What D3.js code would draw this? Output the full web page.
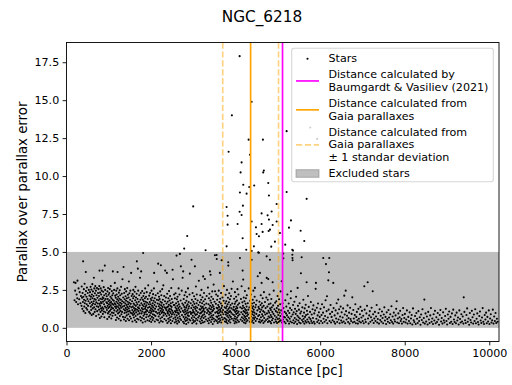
<!DOCTYPE html>
<html><head><meta charset="utf-8">
<script src="https://cdn.jsdelivr.net/npm/d3@7"></script>
<style>
body{margin:0;background:#fff}
svg{display:block}
text{font-family:"DejaVu Sans",sans-serif;fill:#000}
</style>
</head><body>
<svg id="chart" width="512" height="385"></svg>
<script>
const chartTitle = "NGC_6218";
const xLabel = "Star Distance [pc]";
const yLabel = "Parallax over parallax error";
const xTicks = [0, 2000, 4000, 6000, 8000, 10000];
const yTicks = [0, 2.5, 5, 7.5, 10, 12.5, 15, 17.5];
const xDomain = [0, 10230];
const yDomain = [-0.9, 18.8];
const excludedBand = [0, 5];          // parallax/error range of excluded stars
const baumgardtDistance = 5110;       // pc
const gaiaDistance = 4355;            // pc
const gaiaDistanceBounds = [3695, 5015]; // ±1 standard deviation, pc

// [distance pc, parallax / parallax error]
const stars = [
[175,3.0],[190,1.82],[205,2.45],[213,2.96],[228,1.7],[240,2.2],[255,1.95],[260,3.11],[272,1.55],[285,2.6],[300,1.88],[312,2.35],[330,1.62],[342,2.1],
[355,1.45],[360,2.72],[368,1.98],[375,1.25],[380,2.3],[388,1.7],[393,4.38],[398,2.05],[405,1.1],[410,2.55],[415,1.85],[420,1.4],[428,2.9],[433,1.62],[440,2.18],[445,0.98],[452,1.78],[457,3.68],[460,2.42],[466,1.3],[472,2.05],[478,1.55],[483,2.65],[490,1.2],[495,1.9],[502,2.3],[510,1.45],[518,1.75],[527,2.5],[535,1.05],[544,2.12],
[552,1.62],[556,2.35],[560,0.95],[565,1.88],[570,2.7],[574,1.4],[579,2.05],[583,1.18],[588,2.52],[592,1.7],[597,0.85],[601,2.2],[606,1.5],[611,2.88],[615,1.95],[620,1.28],[625,2.4],[630,1.6],[634,0.92],[639,2.1],[644,1.75],[648,3.3],[653,1.35],[658,2.6],[662,1.9],[667,1.05],[672,2.28],[677,1.55],[681,2.75],[686,1.22],[691,1.85],[696,2.45],[700,0.78],[705,1.68],[710,2.15],[715,1.42],[720,2.62],[726,1.1],[733,1.98],[740,1.6],[746,2.3],
[752,1.38],[756,2.55],[760,0.88],[764,1.82],[768,2.1],[772,1.2],[776,2.75],[781,3.77],[785,1.58],[789,0.65],[793,2.32],[797,1.45],[801,1.92],[805,1.05],[809,2.6],[813,1.7],[817,1.28],[821,2.2],[825,0.75],[829,1.62],[833,2.45],[837,1.15],[841,1.88],[845,3.1],[849,1.35],[852,3.77],[856,2.02],[860,0.92],[864,1.72],[868,2.38],[872,1.25],[876,1.95],[880,2.68],[884,1.08],[888,1.55],[892,2.15],[896,0.7],[900,1.8],[906,4.1],[910,1.4],[915,2.5],[920,1.02],[926,1.9],[932,2.25],[938,1.32],[944,1.68],
[952,2.08],[956,1.18],[960,1.62],[964,0.58],[968,2.4],[972,1.45],[976,1.9],[980,0.95],[984,2.62],[988,1.3],[992,1.75],[996,2.18],[1000,1.05],[1004,1.55],[1008,0.72],[1012,2.3],[1016,1.38],[1020,1.82],[1024,2.55],[1028,1.12],[1032,1.65],[1036,0.88],[1040,2.05],[1044,1.48],[1048,2.75],[1052,1.22],[1056,1.7],[1060,0.62],[1064,1.95],[1068,1.35],[1072,2.42],[1076,1.0],[1080,1.58],[1084,2.15],[1088,0.8],[1092,1.85],[1096,3.72],[1100,1.28],[1105,2.28],[1110,1.52],[1115,0.98],[1120,1.78],[1126,2.5],[1132,1.15],[1138,1.62],[1143,2.96],[1148,1.4],
[1152,2.12],[1156,0.85],[1160,1.55],[1164,1.98],[1168,0.52],[1172,1.3],[1176,2.45],[1180,1.72],[1184,1.08],[1188,2.2],[1192,1.42],[1196,0.68],[1200,1.88],[1204,2.6],[1207,3.68],[1211,1.18],[1215,1.62],[1219,0.95],[1223,2.05],[1227,1.35],[1231,1.78],[1235,0.6],[1239,2.32],[1243,1.5],[1247,1.02],[1251,1.92],[1255,1.25],[1259,2.48],[1263,0.78],[1267,1.65],[1271,2.15],[1275,1.12],[1279,1.45],[1283,0.48],[1287,1.85],[1291,2.7],[1295,1.32],[1299,0.9],[1303,1.58],[1308,2.25],[1313,1.05],[1318,1.75],[1324,3.2],[1330,1.4],[1336,0.72],[1342,2.0],[1349,4.01],
[1352,1.22],[1356,1.68],[1360,0.55],[1364,2.3],[1368,1.45],[1372,0.98],[1376,1.88],[1380,2.55],[1384,1.15],[1388,0.7],[1392,1.6],[1396,2.08],[1400,1.3],[1404,0.45],[1408,1.78],[1412,2.4],[1416,1.02],[1420,1.5],[1424,0.82],[1428,1.95],[1432,1.2],[1436,2.62],[1440,1.38],[1444,0.6],[1448,1.72],[1452,2.18],[1456,1.08],[1460,1.55],[1464,0.9],[1468,2.0],[1472,1.28],[1476,3.05],[1480,0.5],[1484,1.65],[1488,2.28],[1492,1.12],[1496,1.42],[1500,0.75],[1505,1.85],[1510,2.45],[1515,1.0],[1520,1.58],[1525,0.62],[1529,3.62],[1535,1.35],[1541,2.1],[1547,0.95],
[1552,1.75],[1556,1.18],[1560,0.42],[1564,2.22],[1568,1.4],[1572,0.85],[1576,1.95],[1580,2.5],[1584,1.05],[1588,1.6],[1592,0.68],[1596,1.3],[1600,2.08],[1604,0.92],[1608,1.52],[1612,2.38],[1616,1.15],[1620,0.5],[1624,1.82],[1628,1.25],[1632,2.7],[1636,0.78],[1640,1.45],[1644,2.0],[1648,1.02],[1652,0.38],[1656,1.68],[1660,2.25],[1664,4.38],[1668,1.2],[1672,0.6],[1676,1.55],[1680,1.9],[1684,0.88],[1688,3.9],[1692,1.35],[1696,2.45],[1700,1.1],[1705,0.55],[1710,1.72],[1715,1.28],[1720,2.15],[1726,0.95],[1732,1.48],[1738,3.3],[1744,0.72],[1748,1.85],
[1752,1.15],[1756,2.3],[1760,0.48],[1766,3.72],[1770,1.62],[1774,0.95],[1778,1.98],[1782,1.3],[1786,0.65],[1790,2.42],[1794,1.08],[1798,1.5],[1802,0.35],[1806,1.85],[1810,1.22],[1813,4.93],[1817,2.1],[1821,0.8],[1825,1.42],[1829,1.75],[1833,0.58],[1837,2.28],[1841,1.0],[1845,1.58],[1849,0.9],[1853,1.95],[1857,1.25],[1861,2.6],[1865,0.42],[1869,1.38],[1873,1.72],[1877,1.05],[1881,2.05],[1885,0.7],[1889,1.48],[1893,1.18],[1897,2.35],[1901,0.88],[1906,1.65],[1911,1.12],[1916,0.5],[1921,1.9],[1927,1.32],[1933,2.8],[1939,0.75],[1945,1.55],
[1952,1.02],[1956,2.12],[1960,0.45],[1964,1.38],[1968,1.7],[1972,0.82],[1976,2.3],[1980,1.15],[1984,0.6],[1988,1.55],[1992,1.92],[1996,0.98],[2000,1.28],[2004,0.38],[2008,1.82],[2012,2.45],[2016,1.08],[2020,0.72],[2024,1.45],[2028,2.0],[2032,1.2],[2036,0.52],[2040,1.62],[2044,0.9],[2048,2.22],[2052,1.35],[2056,0.65],[2060,1.78],[2064,1.1],[2068,2.6],[2073,3.62],[2077,0.85],[2081,1.5],[2085,1.95],[2089,0.42],[2094,1.25],[2099,1.68],[2104,0.78],[2110,2.15],[2116,1.05],[2122,1.4],[2130,0.55],[2138,1.85],[2145,3.05],
[2152,0.95],[2156,1.6],[2160,2.28],[2164,0.5],[2168,4.23],[2172,1.2],[2176,1.82],[2180,0.75],[2184,1.42],[2188,2.05],[2192,1.0],[2196,0.35],[2200,1.55],[2204,1.9],[2208,0.88],[2212,1.3],[2216,2.4],[2220,0.62],[2224,1.72],[2228,1.12],[2232,4.12],[2236,0.45],[2240,1.48],[2244,2.15],[2248,0.98],[2252,1.25],[2256,1.65],[2260,0.7],[2264,2.55],[2268,1.05],[2272,1.38],[2276,0.4],[2280,1.85],[2285,1.18],[2290,2.8],[2295,0.82],[2300,1.52],[2305,1.0],[2311,2.1],[2317,0.58],[2323,1.35],[2329,1.75],[2334,3.77],[2340,0.92],[2346,1.28],
[2352,2.0],[2356,0.48],[2360,1.18],[2364,1.6],[2368,0.78],[2374,3.62],[2378,1.35],[2382,2.25],[2386,0.32],[2390,1.05],[2394,1.72],[2398,0.95],[2402,1.4],[2406,0.6],[2410,1.95],[2414,1.15],[2418,0.42],[2422,1.52],[2426,2.42],[2430,0.85],[2434,1.25],[2438,1.8],[2442,0.68],[2446,1.08],[2450,2.1],[2454,0.52],[2458,1.45],[2462,0.98],[2466,1.62],[2470,0.3],[2474,1.22],[2478,2.62],[2482,0.75],[2486,1.38],[2490,1.9],[2495,0.9],[2500,1.12],[2505,0.45],[2509,3.83],[2511,1.68],[2517,3.2],[2523,1.0],[2530,0.62],[2537,1.5],[2544,2.2],
[2552,0.88],[2556,1.5],[2560,0.35],[2564,1.95],[2568,1.1],[2572,0.7],[2576,1.35],[2580,2.28],[2584,0.55],[2588,1.02],[2592,1.62],[2596,0.42],[2600,1.25],[2603,4.76],[2607,0.82],[2611,1.88],[2615,1.15],[2619,0.28],[2623,1.45],[2627,2.05],[2631,0.65],[2635,1.0],[2639,1.72],[2643,0.48],[2647,1.3],[2651,2.6],[2655,0.92],[2659,1.55],[2663,0.38],[2667,1.18],[2671,2.2],[2675,0.75],[2679,1.4],[2682,4.87],[2688,0.6],[2694,1.05],[2700,1.8],[2705,4.05],[2711,0.52],[2718,1.28],[2725,2.45],[2732,0.85],[2740,1.6],[2746,3.3],
[2752,1.12],[2756,0.4],[2760,3.72],[2764,1.5],[2768,0.72],[2772,1.9],[2776,1.02],[2780,0.3],[2788,1.38],[2792,2.15],[2796,0.58],[2800,1.2],[2804,0.88],[2808,1.65],[2812,0.45],[2816,1.08],[2820,2.35],[2824,0.7],[2828,1.32],[2832,0.25],[2836,1.78],[2840,0.95],[2844,1.45],[2848,0.5],[2852,2.05],[2858,1.15],[2862,0.62],[2866,1.55],[2870,0.82],[2874,2.6],[2878,1.0],[2882,0.35],[2886,1.28],[2890,1.7],[2895,0.78],[2900,1.42],[2905,0.55],[2910,2.2],[2918,3.57],[2924,1.05],[2930,0.48],[2937,1.62],[2944,0.92],
[2952,1.3],[2958,4.49],[2962,0.65],[2966,1.85],[2970,1.0],[2974,0.3],[2978,1.48],[2982,2.3],[2986,0.8],[2990,1.18],[2994,0.52],[3002,1.72],[3006,1.05],[3010,0.38],[3014,1.35],[3018,2.08],[3022,0.7],[3026,1.58],[3030,0.95],[3037,4.05],[3041,0.45],[3045,1.25],[3049,1.9],[3053,0.85],[3057,1.4],[3061,2.72],[3065,0.6],[3069,1.12],[3073,0.28],[3077,1.62],[3081,2.2],[3086,0.9],[3091,1.32],[3096,0.5],[3102,1.8],[3108,1.02],[3115,0.68],[3122,1.5],[3130,3.1],[3138,0.78],[3145,1.22],
[3152,0.42],[3156,1.68],[3160,0.95],[3164,2.15],[3168,1.2],[3172,0.6],[3176,1.42],[3180,0.3],[3184,1.85],[3188,1.0],[3192,2.5],[3196,0.72],[3200,1.3],[3204,0.48],[3208,1.62],[3212,1.08],[3216,2.02],[3220,0.82],[3224,1.38],[3228,0.35],[3233,3.39],[3237,1.15],[3241,1.75],[3245,0.65],[3249,1.25],[3253,2.3],[3257,0.9],[3261,1.52],[3265,0.4],[3269,1.05],[3273,3.22],[3278,1.88],[3283,0.75],[3295,1.32],[3301,0.55],[3308,1.6],[3315,2.1],[3322,0.98],[3330,1.2],[3338,0.45],[3345,2.65],
[3352,1.1],[3356,0.62],[3360,1.55],[3364,0.3],[3368,1.95],[3372,0.88],[3376,1.28],[3380,2.25],[3384,0.5],[3388,1.02],[3392,3.72],[3396,1.45],[3400,0.7],[3404,1.8],[3408,3.5],[3412,0.95],[3416,1.22],[3420,0.38],[3424,1.65],[3428,2.05],[3432,0.8],[3436,1.35],[3440,0.55],[3444,1.08],[3448,2.4],[3452,0.68],[3456,1.5],[3460,0.25],[3464,1.15],[3468,1.9],[3472,0.85],[3476,1.4],[3480,2.85],[3485,0.6],[3490,1.25],[3496,0.42],[3502,1.72],[3510,4.78],[3514,2.41],[3520,1.0],[3527,0.52],[3534,1.58],[3541,2.2],[3547,0.75],[3550,4.8],[3553,4.54],
[3552,1.32],[3556,0.45],[3560,1.05],[3564,1.85],[3568,0.72],[3572,1.28],[3576,0.32],[3580,2.1],[3584,0.95],[3588,1.5],[3592,0.58],[3596,1.15],[3600,2.45],[3604,0.8],[3608,1.38],[3612,0.4],[3616,1.7],[3620,1.0],[3624,0.62],[3628,3.62],[3632,1.22],[3636,1.92],[3640,0.5],[3644,1.1],[3648,0.85],[3652,1.6],[3656,2.3],[3660,0.35],[3664,1.3],[3669,4.45],[3674,0.7],[3679,1.45],[3684,1.02],[3690,2.0],[3696,0.55],[3703,1.18],[3710,0.9],[3717,1.78],[3725,2.75],[3733,0.65],[3741,1.35],[3748,0.42],
[3752,1.05],[3756,1.62],[3760,0.6],[3764,2.18],[3768,0.88],[3772,1.3],[3776,0.38],[3780,1.75],[3784,1.0],[3788,0.52],[3792,1.42],[3796,2.5],[3800,0.78],[3804,1.15],[3808,0.3],[3812,1.55],[3816,0.95],[3820,1.98],[3825,4.32],[3827,4.1],[3830,0.68],[3834,1.25],[3838,0.45],[3842,1.68],[3846,1.05],[3850,2.28],[3854,0.82],[3858,1.35],[3862,0.55],[3866,1.88],[3870,1.1],[3875,0.35],[3880,1.5],[3885,0.72],[3890,2.1],[3896,1.0],[3902,1.28],[3905,2.57],[3912,0.6],[3920,1.6],[3928,0.9],[3936,3.05],[3944,1.2],
[3952,0.48],[3956,1.38],[3960,0.85],[3964,1.92],[3968,0.62],[3972,1.15],[3976,0.3],[3980,1.58],[3984,2.35],[3988,0.75],[3992,1.05],[3996,0.42],[4000,1.72],[4004,1.25],[4008,0.58],[4012,2.05],[4016,0.92],[4020,1.4],[4024,0.35],[4028,1.12],[4032,1.8],[4036,0.68],[4040,1.3],[4044,2.55],[4048,0.5],[4052,0.98],[4056,1.52],[4060,0.8],[4066,2.2],[4072,1.08],[4078,0.4],[4085,1.62],[4092,0.88],[4102,4.6],[4110,1.35],[4118,0.55],[4126,1.9],[4134,1.02],[4142,2.74],[4148,0.7],
[4152,1.28],[4156,0.45],[4160,1.68],[4166,3.77],[4170,0.9],[4174,1.45],[4180,3.18],[4184,0.62],[4188,1.1],[4192,2.0],[4196,0.35],[4200,1.32],[4204,0.8],[4208,1.75],[4212,0.52],[4216,1.05],[4220,2.42],[4224,0.72],[4228,1.22],[4232,0.3],[4236,1.58],[4240,0.95],[4244,1.95],[4248,0.6],[4252,1.15],[4256,0.42],[4260,1.4],[4265,2.15],[4270,0.78],[4276,1.0],[4282,0.5],[4288,1.62],[4295,0.88],[4302,1.2],[4310,2.6],[4318,0.65],[4326,1.35],[4334,0.4],[4342,1.78],
[4352,0.98],[4356,0.55],[4360,1.45],[4364,2.2],[4368,0.75],[4372,1.1],[4379,4.49],[4384,0.38],[4388,1.6],[4392,0.9],[4396,1.3],[4400,0.48],[4404,1.85],[4408,1.05],[4412,0.65],[4416,1.42],[4420,2.45],[4424,0.32],[4428,1.2],[4432,0.82],[4436,1.65],[4440,0.58],[4445,1.0],[4450,2.05],[4457,2.63],[4462,0.7],[4468,1.35],[4475,0.45],[4482,1.52],[4490,0.92],[4498,1.8],[4506,0.6],[4515,1.15],[4524,3.4],[4533,0.78],[4535,4.97],[4542,1.38],
[4552,0.4],[4556,1.25],[4560,0.85],[4564,1.72],[4568,0.55],[4575,3.62],[4580,1.05],[4585,0.35],[4590,1.5],[4595,2.15],[4600,0.7],[4605,1.2],[4610,0.45],[4615,2.96],[4620,1.62],[4625,0.9],[4630,1.35],[4635,0.5],[4640,1.95],[4646,0.78],[4652,1.1],[4658,0.32],[4664,1.45],[4670,2.35],[4676,0.65],[4682,1.02],[4688,0.42],[4695,1.7],[4702,0.88],[4710,1.3],[4718,0.52],[4726,2.0],[4734,4.71],[4736,3.29],[4742,0.95],
[4752,1.4],[4756,0.6],[4760,1.85],[4764,0.38],[4772,3.22],[4776,1.12],[4780,0.75],[4785,1.55],[4790,0.45],[4795,1.0],[4800,2.2],[4806,0.68],[4812,4.49],[4816,1.28],[4820,0.4],[4825,1.6],[4830,0.85],[4835,1.18],[4840,0.3],[4845,1.9],[4850,0.72],[4856,1.35],[4862,0.5],[4868,1.05],[4876,3.0],[4882,0.62],[4888,1.48],[4895,0.92],[4902,2.45],[4910,0.35],[4918,1.22],[4926,0.8],[4934,1.65],[4942,0.55],
[4952,1.1],[4956,0.42],[4962,1.75],[4968,0.7],[4974,1.3],[4980,0.32],[4986,1.02],[4992,2.1],[4998,0.58],[5004,1.45],[5010,0.85],[5016,0.38],[5022,1.2],[5028,1.88],[5034,0.62],[5040,1.0],[5046,0.45],[5052,1.55],[5058,0.78],[5064,2.4],[5070,0.5],[5078,1.15],[5089,3.07],[5095,0.35],[5104,0.92],[5112,1.62],[5122,0.55],[5128,4.89],[5130,4.58],[5132,1.3],[5142,0.72],
[5152,0.4],[5160,1.05],[5168,0.68],[5176,1.82],[5184,0.3],[5192,0.95],[5200,1.4],[5208,0.55],[5216,0.82],[5224,2.2],[5232,0.45],[5240,1.12],[5248,0.7],[5256,1.6],[5264,0.28],[5272,0.98],[5280,0.6],[5288,1.3],[5296,0.42],[5304,1.95],[5309,2.41],[5316,0.75],[5324,1.18],[5332,0.35],[5340,5.15],[5342,4.82],[5345,4.6],[5348,4.45],[5350,0.88],[5358,1.5],[5366,0.5],[5374,1.02],[5382,0.3],[5390,1.72],[5398,0.65],[5406,1.25],[5414,0.4],[5422,0.92],[5430,2.05],[5438,0.55],[5446,1.1],[5454,0.25],[5462,0.8],[5467,2.63],[5474,1.45],[5482,0.48],[5490,0.7],[5498,1.2],[5506,0.35],[5514,1.62],[5522,0.62],[5530,0.95],[5538,0.3],[5545,3.6],[5552,1.08],[5562,4.65],[5570,0.52],[5578,1.35],[5586,0.78],[5594,0.4],[5602,1.85],[5610,0.6],[5618,1.0],[5626,0.28],[5634,1.28],[5642,0.72],[5650,0.45],[5658,1.52],[5666,0.85],[5674,0.35],[5680,3.0],[5688,1.12],[5696,0.55],[5704,0.9],[5712,2.1],[5720,0.4],[5730,1.38],[5740,0.68],[5750,0.3],[5760,1.05],[5770,0.58],[5780,1.7],[5790,0.45],[5800,0.88],[5810,0.32],[5820,1.22],[5830,0.65],[5840,1.48],[5850,0.4],[5860,0.95],[5870,0.28],[5880,1.15],[5893,2.57],[5900,2.96],[5910,0.6],[5920,1.32],[5930,0.38],[5940,0.82],[5950,1.6],[5960,0.5],[5970,1.02],[5980,0.3],[5990,0.72],
[6008,1.25],[6020,0.45],[6032,0.85],[6044,1.55],[6056,0.32],[6068,1.0],[6073,4.6],[6080,0.6],[6092,1.35],[6104,0.4],[6116,0.78],[6128,1.82],[6137,4.2],[6140,0.52],[6152,1.1],[6161,2.08],[6170,0.3],[6180,0.68],[6192,3.13],[6200,1.2],[6208,3.66],[6215,4.6],[6222,0.45],[6234,0.92],[6246,1.5],[6258,0.35],[6270,0.72],[6282,1.05],[6294,0.5],[6310,2.96],[6318,1.3],[6330,0.4],[6342,0.82],[6354,0.28],[6366,1.15],[6378,0.62],[6390,1.62],[6402,0.38],[6414,0.95],[6428,1.86],[6436,0.55],[6448,1.22],[6460,0.3],[6472,0.75],[6484,1.4],[6496,0.48],[6508,1.02],[6520,0.35],[6532,0.68],[6544,1.28],[6556,0.42],[6570,2.12],[6580,0.88],[6592,0.3],[6604,2.45],[6612,1.1],[6624,0.55],[6636,0.8],[6648,1.48],[6660,0.38],[6672,0.65],[6684,1.0],[6696,0.28],[6708,1.32],[6720,0.58],[6732,0.45],[6744,0.92],[6760,2.01],[6772,0.35],[6784,1.18],[6796,0.62],[6808,0.4],[6820,0.85],[6832,1.55],[6844,0.3],[6856,0.72],[6868,1.05],[6880,0.5],[6892,0.28],[6904,1.25],[6916,0.6],[6928,0.42],[6940,0.9],[6952,1.38],[6964,0.35],[6976,0.68],[6988,1.12],
[7005,0.45],[7018,0.8],[7030,0.3],[7044,2.74],[7052,1.2],[7066,0.55],[7080,0.38],[7094,0.95],[7108,1.45],[7124,3.0],[7132,0.62],[7146,0.28],[7160,0.82],[7174,1.1],[7188,0.4],[7202,0.7],[7216,1.32],[7230,0.5],[7243,2.41],[7252,0.9],[7266,0.32],[7280,0.62],[7294,1.05],[7308,0.45],[7322,0.75],[7336,1.5],[7350,0.35],[7364,0.58],[7378,0.98],[7392,0.28],[7406,1.22],[7420,0.52],[7434,0.8],[7448,0.4],[7462,1.08],[7476,0.65],[7490,0.3],[7504,0.88],[7518,1.35],[7532,0.48],[7546,0.72],[7560,0.25],[7574,1.02],[7588,0.58],[7602,0.4],[7616,1.18],[7630,0.68],[7644,0.32],[7658,0.9],[7672,0.5],[7686,1.42],[7700,0.38],[7714,0.75],[7728,0.28],[7742,1.0],[7756,0.55],[7770,0.42],[7784,0.82],[7798,1.25],[7810,1.75],[7822,0.35],[7836,0.62],[7850,0.95],[7864,0.3],[7878,0.7],[7892,1.12],[7906,0.45],[7920,0.58],[7934,0.28],[7948,0.85],[7962,1.3],[7976,0.4],[7990,0.65],
[8004,0.92],[8020,0.35],[8036,0.55],[8052,1.15],[8068,0.28],[8084,0.72],[8100,0.45],[8116,1.02],[8132,0.3],[8148,0.62],[8164,0.85],[8180,0.22],[8196,1.28],[8212,0.5],[8228,0.38],[8244,0.78],[8260,0.25],[8276,0.98],[8292,0.6],[8308,0.32],[8324,1.1],[8340,0.45],[8356,0.7],[8372,0.2],[8388,0.88],[8404,0.52],[8420,1.22],[8436,0.35],[8452,0.65],[8464,1.86],[8476,0.28],[8492,0.95],[8508,0.42],[8524,0.75],[8540,0.22],[8556,1.05],[8572,0.55],[8588,0.32],[8604,0.82],[8620,1.3],[8636,0.4],[8652,0.62],[8668,0.25],[8684,0.9],[8700,0.48],[8716,1.12],[8732,0.3],[8748,0.7],[8764,0.38],[8780,0.98],[8796,0.55],[8812,0.2],[8828,0.85],[8844,1.18],[8860,0.42],[8876,0.65],[8892,0.28],[8908,1.02],[8924,0.5],[8940,0.35],[8956,0.78],[8972,1.25],[8988,0.45],
[9004,0.22],[9020,0.88],[9036,0.6],[9052,1.08],[9068,0.32],[9084,0.72],[9100,0.4],[9116,0.95],[9132,0.25],[9148,1.2],[9164,0.55],[9180,0.38],[9196,0.82],[9212,0.3],[9228,1.0],[9244,0.48],[9260,0.68],[9276,0.22],[9292,1.15],[9308,0.58],[9324,0.35],[9340,0.9],[9356,0.42],[9372,0.75],[9388,0.28],[9396,2.01],[9412,1.05],[9428,0.5],[9444,0.32],[9460,0.85],[9476,1.28],[9492,0.4],[9508,0.62],[9524,0.2],[9540,0.98],[9556,0.52],[9572,0.35],[9588,1.12],[9604,0.7],[9620,0.28],[9636,0.88],[9652,0.45],[9668,1.22],[9684,0.3],[9700,0.6],[9716,0.95],[9732,0.38],[9748,0.22],[9764,0.78],[9780,1.08],[9796,0.48],[9812,0.32],[9828,0.68],[9844,1.3],[9860,0.4],[9876,0.25],[9892,0.85],[9908,0.55],[9924,1.0],[9940,0.3],[9956,0.72],[9972,0.42],[9988,1.15],
[10004,0.25],[10020,0.62],[10036,0.9],[10052,0.35],[10068,0.5],[10084,1.2],[10100,0.28],[10116,0.75],[10132,0.45],[10148,0.98],[10164,0.32],[10180,0.6],[10196,0.4],
[4095,17.9],[4379,14.9],[3912,14.0],[4308,12.4],[4646,12.4],[5207,12.96],[3834,11.6],[4338,11.4],[4142,10.9],[4118,10.24],[4653,10.24],[4668,10.37],[4181,9.43],[4322,9.28],[4440,9.38],[4772,9.54],[4102,8.92],[4260,8.84],[4788,8.72],[5207,8.95],[5680,8.5],[2997,8.0],[4970,8.16],[3787,7.96],[4173,8.05],[4095,7.65],[4142,7.43],[4615,7.54],[4852,7.67],[4757,7.41],[3811,7.39],[4788,7.13],[5309,7.08],[4379,7.01],[4047,6.84],[3811,6.8],[4615,6.84],[4876,6.78],[4970,7.01],[5262,6.6],[4481,6.62],[4812,6.47],[4781,6.38],[4639,6.32],[5538,6.4],[4497,6.18],[4552,6.03],[5049,6.25],[2855,6.05],[4166,5.9],[5624,5.72],[4930,5.68],[5174,5.48],[3787,5.37],[4843,5.35],[4433,5.37],[2784,5.22],[3290,5.11],[4252,5.15],[4379,5.07],[4552,4.95],[5357,5.09],
[5765,13.2],[5930,12.45]
];

const legendEntries = [
  {kind: "dot",    lines: ["Stars"]},
  {kind: "line",   color: "#ff00ff", lines: ["Distance calculated by", "Baumgardt & Vasiliev (2021)"]},
  {kind: "line",   color: "#ffa500", lines: ["Distance calculated from", "Gaia parallaxes"]},
  {kind: "dashed", color: "#ffa500", lines: ["Distance calculated from", "Gaia parallaxes", "\u00b1 1 standar deviation"]},
  {kind: "patch",  lines: ["Excluded stars"]}
];

const W = 512, H = 385;
const m = {left: 66.5, right: 499, top: 42.5, bottom: 341.5};
const svg = d3.select("#chart");

const x = d3.scaleLinear().domain(xDomain).range([m.left, m.right]);
const y = d3.scaleLinear().domain(yDomain).range([m.bottom, m.top]);

svg.append("defs").append("clipPath").attr("id", "plotClip")
  .append("rect").attr("x", m.left).attr("y", m.top)
  .attr("width", m.right - m.left).attr("height", m.bottom - m.top);

const plot = svg.append("g").attr("clip-path", "url(#plotClip)");

// excluded region
plot.append("rect")
  .attr("x", m.left).attr("width", m.right - m.left)
  .attr("y", y(excludedBand[1])).attr("height", y(excludedBand[0]) - y(excludedBand[1]))
  .attr("fill", "rgb(128,128,128)").attr("fill-opacity", 0.5);

// ±1σ bounds
plot.selectAll("line.bound").data(gaiaDistanceBounds).join("line")
  .attr("class", "bound")
  .attr("x1", d => x(d)).attr("x2", d => x(d))
  .attr("y1", m.top).attr("y2", m.bottom)
  .attr("stroke", "#ffa500").attr("stroke-opacity", 0.5)
  .attr("stroke-width", 1.67).attr("stroke-dasharray", "6.2,2.7");

// stars
plot.selectAll("circle.star").data(stars).join("circle")
  .attr("class", "star")
  .attr("cx", d => x(d[0])).attr("cy", d => y(d[1]))
  .attr("r", 1.05).attr("fill", "#000");

// distance estimates
plot.append("line")
  .attr("x1", x(gaiaDistance)).attr("x2", x(gaiaDistance))
  .attr("y1", m.top).attr("y2", m.bottom)
  .attr("stroke", "#ffa500").attr("stroke-width", 1.67);
plot.append("line")
  .attr("x1", x(baumgardtDistance)).attr("x2", x(baumgardtDistance))
  .attr("y1", m.top).attr("y2", m.bottom)
  .attr("stroke", "#ff00ff").attr("stroke-width", 1.67);

// axes
const fs = 11.1;
const xAxis = d3.axisBottom(x).tickValues(xTicks).tickSize(3.9).tickPadding(3.4)
  .tickFormat(d3.format("d"));
const yAxis = d3.axisLeft(y).tickValues(yTicks).tickSize(3.9).tickPadding(3.4)
  .tickFormat(d3.format(".1f"));

const gx = svg.append("g").attr("transform", `translate(0,${m.bottom})`).call(xAxis);
const gy = svg.append("g").attr("transform", `translate(${m.left},0)`).call(yAxis);
[gx, gy].forEach(g => {
  g.select(".domain").remove();
  g.selectAll(".tick line").attr("stroke", "#000").attr("stroke-width", 0.9);
  g.selectAll(".tick text").attr("font-size", fs).attr("font-family", "DejaVu Sans").attr("fill", "#000");
});

// frame
svg.append("rect")
  .attr("x", m.left).attr("y", m.top)
  .attr("width", m.right - m.left).attr("height", m.bottom - m.top)
  .attr("fill", "none").attr("stroke", "#000").attr("stroke-width", 0.9);

// titles
svg.append("text").attr("x", 262).attr("y", 21.5)
  .attr("text-anchor", "middle").attr("font-size", 15.3).text(chartTitle);
svg.append("text").attr("x", (m.left + m.right) / 2).attr("y", 374.5)
  .attr("text-anchor", "middle").attr("font-size", 13.3).text(xLabel);
svg.append("text")
  .attr("transform", `translate(26.5,${(m.top + m.bottom) / 2}) rotate(-90)`)
  .attr("text-anchor", "middle").attr("font-size", 13.3).text(yLabel);

// legend
const leg = svg.append("g");
leg.append("rect")
  .attr("x", 291.7).attr("y", 48.3).attr("width", 201.6).attr("height", 133.4)
  .attr("rx", 2.2)
  .attr("fill", "#fff").attr("fill-opacity", 0.8)
  .attr("stroke", "#ccc").attr("stroke-opacity", 0.8).attr("stroke-width", 1.1);

const lineStep = 12.3, entryGap = 4.3;
let cy = 57.7;   // centre of first text line
const hx0 = 296, hx1 = 319, tx = 328.5;
legendEntries.forEach(e => {
  const n = e.lines.length;
  const mid = cy + (n - 1) * lineStep / 2;
  e.lines.forEach((t, i) => {
    leg.append("text").attr("x", tx).attr("y", cy + i * lineStep + 4.0)
      .attr("font-size", fs).text(t);
  });
  if (e.kind === "dot") {
    leg.append("circle").attr("cx", 307.5).attr("cy", mid + 1).attr("r", 1.05).attr("fill", "#000");
  } else if (e.kind === "line" || e.kind === "dashed") {
    const l = leg.append("line").attr("x1", hx0).attr("x2", hx1)
      .attr("y1", mid + 0.5).attr("y2", mid + 0.5)
      .attr("stroke", e.color).attr("stroke-width", 1.67);
    if (e.kind === "dashed") l.attr("stroke-opacity", 0.5).attr("stroke-dasharray", "6.2,2.7");
  } else if (e.kind === "patch") {
    leg.append("rect").attr("x", hx0).attr("y", mid - 3.6).attr("width", hx1 - hx0).attr("height", 7.6)
      .attr("fill", "rgb(128,128,128)").attr("fill-opacity", 0.5)
      .attr("stroke", "rgb(128,128,128)").attr("stroke-opacity", 0.5).attr("stroke-width", 1.1);
  }
  cy += n * lineStep + entryGap;
});
</script>
</body></html>
